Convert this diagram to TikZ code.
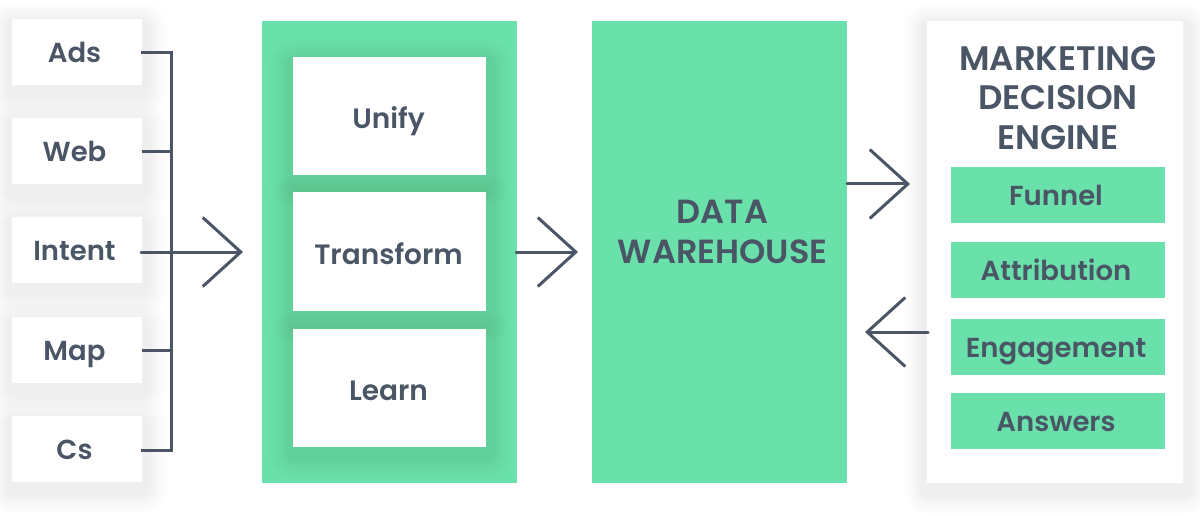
\documentclass[tikz,border=0pt]{standalone}
\usepackage{fontspec}
\setmainfont{Poppins}[BoldFont={Poppins SemiBold}]
\usepackage{xcolor}
\usetikzlibrary{arrows.meta,shadows}
\definecolor{mint}{HTML}{6AE0AB}
\definecolor{slate}{HTML}{4A5666}
\tikzset{
softlayer/.style={general shadow={shadow xshift=1pt,shadow yshift=-7pt,draw=black,fill=none,line join=round,line width=#1,opacity=.008}},
softshadow/.style={softlayer=48pt,softlayer=42pt,softlayer=36pt,softlayer=31pt,softlayer=26pt,softlayer=22pt,softlayer=18pt,softlayer=15pt},
nudge/.style={execute at begin node={\hspace*{-#1}}},
label/.style={text=slate,font=\bfseries\fontsize{27.5}{39}\selectfont,inner sep=0pt,text height=20pt,text depth=0pt},
srcbox/.style={label,nudge=4pt,fill=white,softshadow,minimum width=130pt,minimum height=66pt},
stepbox/.style={label,nudge=2pt,fill=white,softshadow,minimum width=193pt,minimum height=118pt,font=\bfseries\fontsize{28}{39}\selectfont,text height=25pt},
panel/.style={fill=mint,minimum width=255pt,minimum height=462pt,inner sep=0pt},
enginebox/.style={label,nudge=4pt,fill=mint,minimum width=214pt,minimum height=56pt},
headline/.style={text=slate,font=\bfseries\fontsize{34}{39.5}\selectfont,align=center,inner sep=0pt},
wire/.style={draw=slate,line width=3pt},
bigarrow/.style={wire,-{Straight Barb[length=38pt,width=69pt,line width=3pt]},line cap=round,line join=round}
}
\begin{document}
\begin{tikzpicture}[x=1pt,y=-1pt]
\useasboundingbox (0,0) rectangle (1200,516);
% panels
\node[panel] (etl) at (389,252) {};
\node[panel] (warehouse) at (719.5,252) {};
\node[panel,fill=white,softshadow,minimum width=256pt] (engine) at (1055,252) {};
\node[headline,font=\bfseries\fontsize{33.5}{39.5}\selectfont] (dwtitle) at (722.5,232) {DATA\\WAREHOUSE};
% sources
\node[srcbox] (ads) at (76.5,52.5) {Ads};
\node[srcbox] (web) at (76.5,151.5) {Web};
\node[srcbox] (intent) at (76.5,250) {Intent};
\node[srcbox] (map) at (76.5,350) {Map};
\node[srcbox] (cs) at (76.5,449) {Cs};
% steps
\node[stepbox] (unify) at (389.5,116) {Unify};
\node[stepbox] (transform) at (389.5,251.5) {Transform};
\node[stepbox] (learn) at (389.5,388) {Learn};
% engine
\node[headline] (title) at (1058,98) {MARKETING\\DECISION\\ENGINE};
\node[enginebox] (funnel) at (1058,195) {Funnel};
\node[enginebox] (attribution) at (1058,270) {Attribution};
\node[enginebox] (engagement) at (1058,347) {Engagement};
\node[enginebox] (answers) at (1058,421) {Answers};
% bus
\coordinate (bustop) at (171,52.5);
\coordinate (busbot) at (171,450);
\coordinate (tipin) at (243,252);
\coordinate (etlout) at (516,252);
\coordinate (tipout) at (578,252);
\coordinate (dwout) at (847,184);
\coordinate (tipdw) at (910,184);
\coordinate (engout) at (928,332);
\coordinate (tipback) at (865,332);
\draw[wire,line join=miter] (141,52.5) -- (bustop) -- (busbot) -- (141,450);
\draw[wire] (web.east) -- (web.east -| bustop);
\draw[wire] (map.east) -- (map.east -| bustop);
\draw[bigarrow] (141,252) -- (tipin);
\draw[bigarrow] (etlout) -- (tipout);
\draw[bigarrow] (dwout) -- (tipdw);
\draw[bigarrow] (engout) -- (tipback);
\end{tikzpicture}
\end{document}
